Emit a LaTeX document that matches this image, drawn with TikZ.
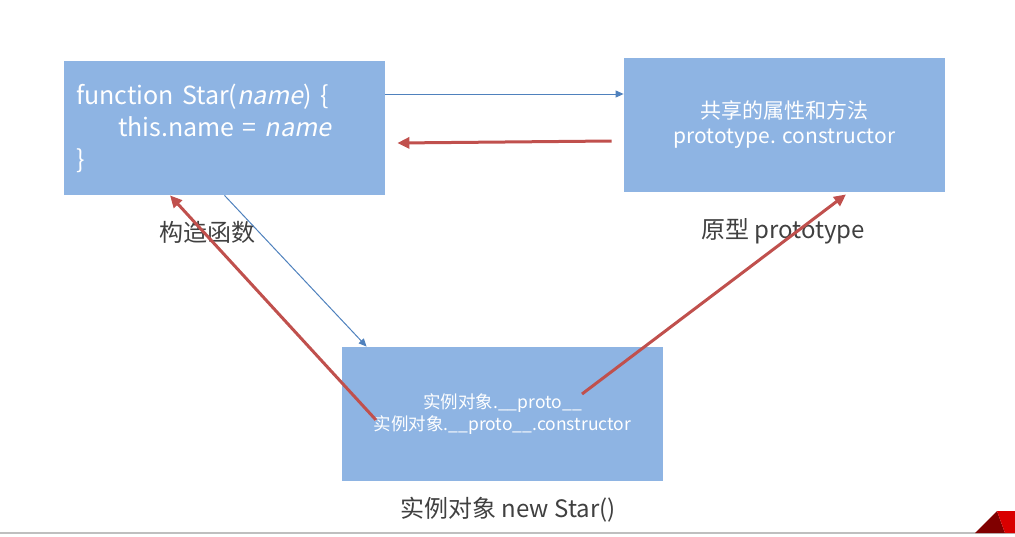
\documentclass[tikz,border=0pt]{standalone}
\usepackage{fontspec}
\setmainfont{Noto Sans CJK SC}[AutoFakeSlant=0.2]
\usetikzlibrary{arrows.meta}
\definecolor{boxblue}{RGB}{142,180,227}
\definecolor{linkblue}{RGB}{79,129,189}
\definecolor{linkred}{RGB}{192,80,77}
\definecolor{labelgray}{RGB}{64,64,64}

\begin{document}
\begin{tikzpicture}[x=0.5pt, y=-0.5pt, every node/.style={inner sep=0pt},
	objbox/.style={fill=boxblue, minimum width=160.5pt, minimum height=67pt, text=white, align=center},
	caption/.style={text=labelgray, font=\fontsize{12}{14}\selectfont},
	thinlink/.style={-{Triangle[length=4pt,width=3.5pt]}, linkblue, line width=0.5pt},
	thicklink/.style={-{Triangle[length=6pt,width=5.5pt]}, linkred, line width=1.5pt}]
	\useasboundingbox (0,0) rectangle (1015,536);
	\node[objbox, align=left, text width=148.5pt, inner xsep=6pt, font=\fontsize{12.5}{16}\selectfont] (ctor) at (224.5,128)
		{function Star(\textit{name}) \{\\ \hspace*{21pt}this.name = \textit{name}\\ \}};
	\node[objbox, font=\fontsize{10.5}{12.5}\selectfont] (proto) at (784.5,125) {共享的属性和方法\\ prototype. constructor};
	\node[objbox, font=\fontsize{8.75}{11}\selectfont] (inst) at (502.5,414) {实例对象.\_\_proto\_\_\\ 实例对象.\_\_proto\_\_.constructor};
	\node[caption] (ctorlbl) at (207,232) {构造函数};
	\node[caption] (protolbl) at (783,231) {原型 prototype};
	\node[caption] (instlbl) at (508,510) {实例对象 new Star()};
	\coordinate (fromA) at (376,420);
	\coordinate (fromB) at (582,394);
	\draw[thinlink] ([yshift=17pt]ctor.east) -- ([yshift=17pt]ctor.east -| proto.west);
	\draw[thicklink] ([xshift=-6pt,yshift=-8pt]proto.west) -- ([xshift=6pt,yshift=-7.5pt]ctor.east);
	\draw[thinlink] (ctor.south) -- ([xshift=12.5pt]inst.north west);
	\draw[thicklink] (fromA) -- ([xshift=-27.25pt]ctor.south);
	\draw[thicklink] (fromB) -- ([xshift=30.75pt,yshift=-1pt]proto.south);
	\draw[gray!50, line width=1pt] (0,533) -- (1015,533);
	\fill[red!50!black] (975,533) -- (997,511) -- (1005,533) -- cycle;
	\fill[red!85!black] (997,511) -- (1015,511) -- (1015,533) -- (1005,533) -- cycle;
\end{tikzpicture}
\end{document}
